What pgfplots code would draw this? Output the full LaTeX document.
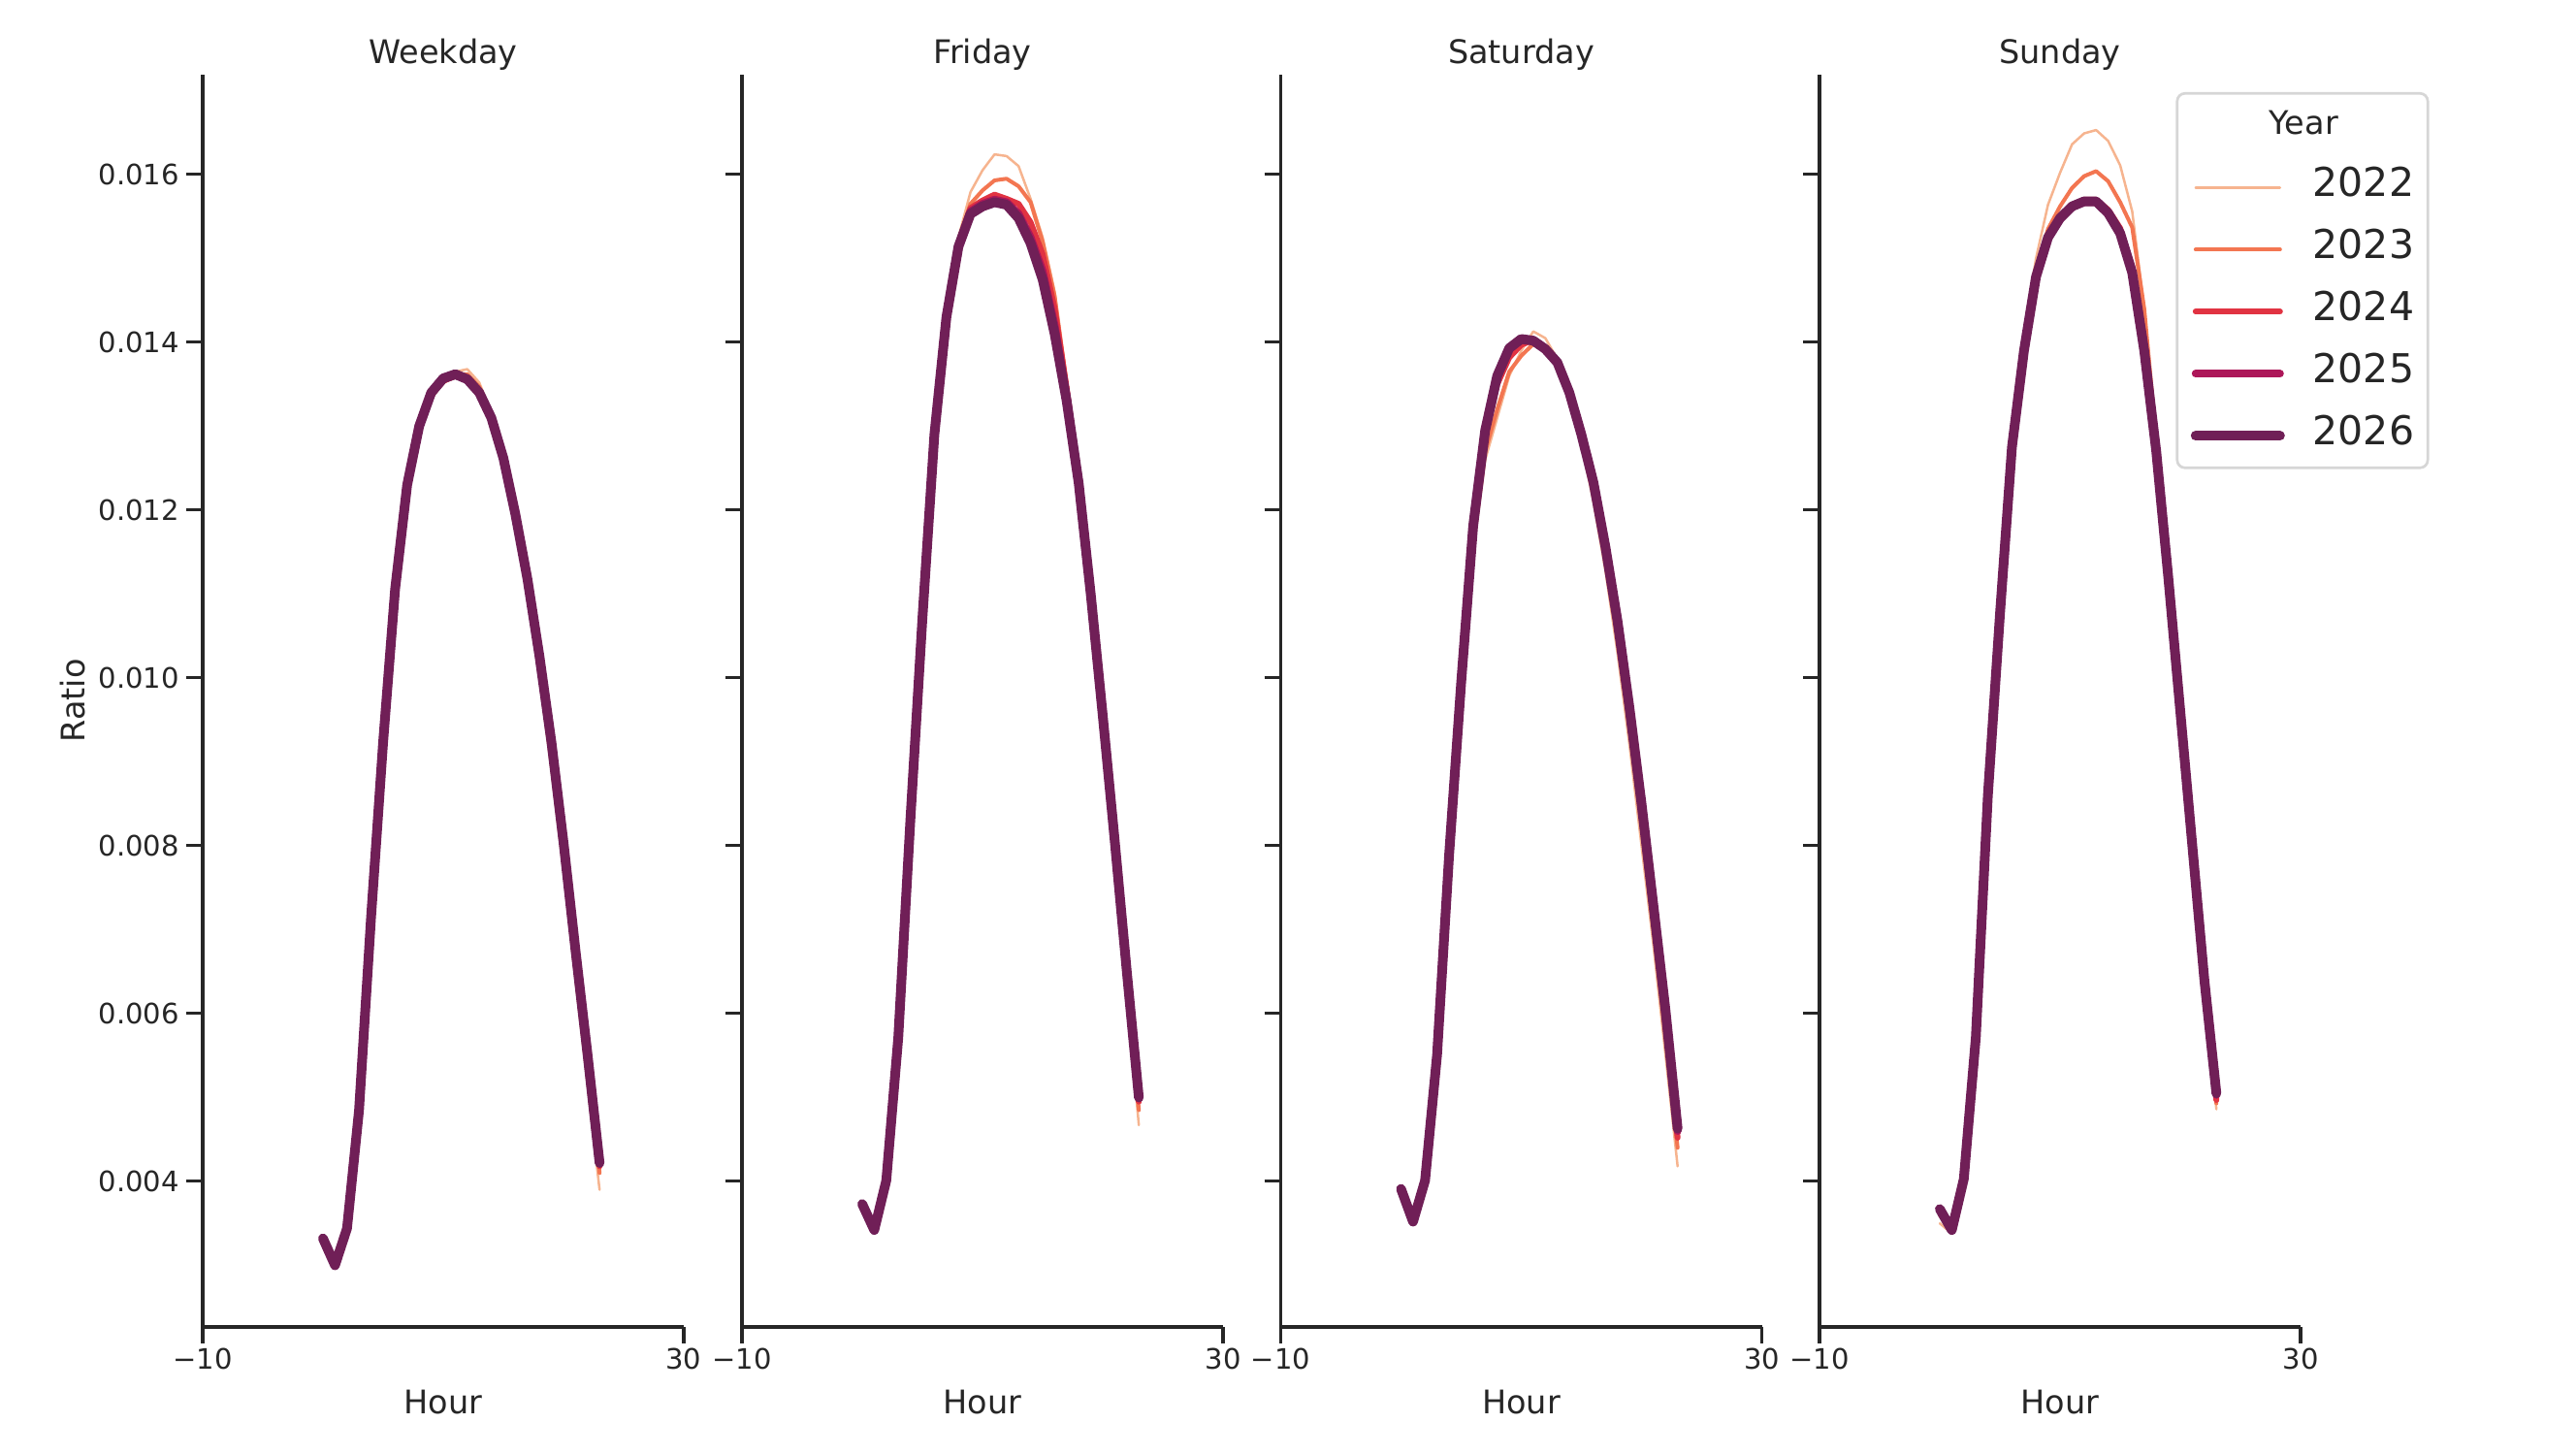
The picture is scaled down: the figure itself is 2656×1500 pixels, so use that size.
\documentclass[border=0pt]{standalone}
\usepackage{fontspec}
\setmainfont{DejaVu Sans}
\usepackage{pgfplots}
\pgfplotsset{compat=1.18}
\usepackage{pgfplotstable}
\definecolor{c22}{HTML}{F6B48F}
\definecolor{c23}{HTML}{F37651}
\definecolor{c24}{HTML}{E13342}
\definecolor{c25}{HTML}{AD1759}
\definecolor{c26}{HTML}{701F57}
\definecolor{ink}{HTML}{262626}
\definecolor{lgray}{HTML}{D6D6D6}

\pgfplotstableread{
h y22 y23 y24 y25 y26
0 0.00336 0.00334 0.00333 0.00332 0.00332
1 0.00298 0.00299 0.00300 0.00300 0.00300
2 0.00340 0.00342 0.00343 0.00344 0.00344
3 0.00480 0.00482 0.00484 0.00485 0.00485
4 0.00710 0.00712 0.00714 0.00715 0.00715
5 0.00915 0.00918 0.00921 0.00923 0.00923
6 0.01095 0.01100 0.01104 0.01106 0.01106
7 0.01220 0.01225 0.01228 0.01230 0.01230
8 0.01290 0.01295 0.01298 0.01300 0.01300
9 0.01332 0.01336 0.01338 0.01340 0.01340
10 0.01352 0.01352 0.01354 0.01356 0.01357
11 0.01365 0.01362 0.01360 0.01361 0.01362
12 0.01368 0.01362 0.01357 0.01356 0.01356
13 0.01352 0.01347 0.01342 0.01340 0.01340
14 0.01315 0.01312 0.01310 0.01310 0.01310
15 0.01262 0.01261 0.01261 0.01262 0.01262
16 0.01190 0.01192 0.01194 0.01195 0.01195
17 0.01100 0.01108 0.01115 0.01118 0.01118
18 0.01000 0.01012 0.01022 0.01026 0.01026
19 0.00890 0.00905 0.00918 0.00922 0.00923
20 0.00770 0.00785 0.00798 0.00803 0.00804
21 0.00640 0.00658 0.00670 0.00674 0.00675
22 0.00515 0.00535 0.00546 0.00550 0.00551
23 0.00390 0.00410 0.00418 0.00421 0.00422
}\wkday

\pgfplotstableread{
h y22 y23 y24 y25 y26
0 0.00375 0.00374 0.00373 0.00373 0.00373
1 0.00340 0.00341 0.00342 0.00342 0.00342
2 0.00398 0.00400 0.00401 0.00401 0.00401
3 0.00568 0.00570 0.00571 0.00572 0.00572
4 0.00828 0.00829 0.00830 0.00830 0.00830
5 0.01068 0.01069 0.01070 0.01070 0.01070
6 0.01292 0.01291 0.01290 0.01290 0.01290
7 0.01440 0.01435 0.01432 0.01430 0.01430
8 0.01525 0.01522 0.01518 0.01515 0.01514
9 0.01579 0.01565 0.01560 0.01556 0.01553
10 0.01605 0.01581 0.01569 0.01565 0.01562
11 0.01624 0.01593 0.01576 0.01570 0.01567
12 0.01622 0.01595 0.01571 0.01567 0.01564
13 0.01610 0.01586 0.01565 0.01553 0.01548
14 0.01571 0.01567 0.01543 0.01525 0.01518
15 0.01525 0.01520 0.01505 0.01485 0.01475
16 0.01460 0.01455 0.01440 0.01420 0.01410
17 0.01355 0.01350 0.01345 0.01335 0.01330
18 0.01235 0.01238 0.01238 0.01234 0.01232
19 0.01090 0.01098 0.01102 0.01102 0.01100
20 0.00935 0.00948 0.00955 0.00955 0.00955
21 0.00780 0.00795 0.00803 0.00805 0.00805
22 0.00625 0.00640 0.00648 0.00650 0.00650
23 0.00467 0.00485 0.00495 0.00499 0.00500
}\friday

\pgfplotstableread{
h y22 y23 y24 y25 y26
0 0.00390 0.00391 0.00391 0.00391 0.00391
1 0.00352 0.00352 0.00352 0.00352 0.00352
2 0.00400 0.00401 0.00401 0.00401 0.00401
3 0.00545 0.00548 0.00550 0.00551 0.00551
4 0.00775 0.00780 0.00786 0.00789 0.00789
5 0.00975 0.00982 0.00990 0.00994 0.00994
6 0.01150 0.01160 0.01174 0.01180 0.01181
7 0.01260 0.01270 0.01288 0.01294 0.01295
8 0.01310 0.01320 0.01350 0.01359 0.01360
9 0.01360 0.01365 0.01382 0.01392 0.01393
10 0.01390 0.01384 0.01397 0.01403 0.01404
11 0.01413 0.01398 0.01403 0.01402 0.01402
12 0.01405 0.01390 0.01392 0.01392 0.01392
13 0.01380 0.01374 0.01375 0.01376 0.01376
14 0.01340 0.01336 0.01338 0.01340 0.01340
15 0.01280 0.01284 0.01287 0.01290 0.01290
16 0.01210 0.01220 0.01228 0.01232 0.01233
17 0.01128 0.01140 0.01150 0.01155 0.01156
18 0.01030 0.01048 0.01060 0.01066 0.01068
19 0.00920 0.00940 0.00955 0.00962 0.00964
20 0.00800 0.00822 0.00840 0.00848 0.00850
21 0.00680 0.00700 0.00717 0.00725 0.00727
22 0.00550 0.00570 0.00590 0.00600 0.00603
23 0.00418 0.00440 0.00452 0.00460 0.00463
}\saturday

\pgfplotstableread{
h y22 y23 y24 y25 y26
0 0.00350 0.00360 0.00365 0.00367 0.00367
1 0.00338 0.00340 0.00341 0.00342 0.00342
2 0.00400 0.00402 0.00403 0.00403 0.00403
3 0.00570 0.00571 0.00572 0.00572 0.00572
4 0.00860 0.00860 0.00860 0.00860 0.00860
5 0.01078 0.01076 0.01075 0.01075 0.01075
6 0.01285 0.01280 0.01277 0.01275 0.01275
7 0.01410 0.01400 0.01393 0.01390 0.01390
8 0.01500 0.01485 0.01480 0.01478 0.01478
9 0.01564 0.01535 0.01528 0.01525 0.01525
10 0.01602 0.01562 0.01550 0.01548 0.01548
11 0.01636 0.01584 0.01564 0.01562 0.01562
12 0.01649 0.01598 0.01570 0.01567 0.01568
13 0.01653 0.01604 0.01570 0.01567 0.01568
14 0.01640 0.01592 0.01558 0.01554 0.01554
15 0.01611 0.01567 0.01536 0.01530 0.01530
16 0.01556 0.01537 0.01490 0.01484 0.01483
17 0.01440 0.01440 0.01405 0.01392 0.01390
18 0.01290 0.01285 0.01275 0.01271 0.01270
19 0.01125 0.01122 0.01120 0.01120 0.01120
20 0.00960 0.00960 0.00960 0.00960 0.00960
21 0.00790 0.00795 0.00798 0.00800 0.00800
22 0.00630 0.00635 0.00638 0.00640 0.00640
23 0.00486 0.00493 0.00497 0.00503 0.00505
}\sunday

\newcommand{\tickfont}{\fontsize{29bp}{35bp}\selectfont}
\newcommand{\labfont}{\fontsize{33.5bp}{40bp}\selectfont}
\newcommand{\legfont}{\fontsize{41bp}{49bp}\selectfont}

\pgfplotsset{
  panel/.style={
    scale only axis, width=496bp, height=1291bp, anchor=south west,
    xmin=-10, xmax=30, ymin=0.002265, ymax=0.01719,
    axis x line*=bottom, axis y line*=left,
    axis line style={draw=ink, line width=3.1bp, -},
    tick align=outside, major tick length=17bp,
    every tick/.style={draw=ink, line width=3.1bp},
    xtick={-10,30}, xticklabels={−10,30},
    ytick={0.004,0.006,0.008,0.010,0.012,0.014,0.016},
    scaled ticks=false,
    tick label style={font=\tickfont, text=ink},
    xticklabel style={anchor=base, inner sep=0pt, yshift=-27bp},
    yticklabel style={anchor=east, inner sep=0pt, xshift=-7bp},
    title style={font=\labfont, text=ink, at={(axis description cs:0.5,1)}, anchor=base, yshift=5bp},
    xlabel={Hour},
    xlabel style={font=\labfont, text=ink, at={(axis description cs:0.5,0)}, anchor=base, yshift=-89bp},
    clip mode=individual,
  },
  l22/.style={c22, line width=2.5bp, line join=round, line cap=round},
  l23/.style={c23, line width=4bp, line join=round, line cap=round},
  l24/.style={c24, line width=6bp, line join=round, line cap=round},
  l25/.style={c25, line width=8bp, line join=round, line cap=round},
  l26/.style={c26, line width=10bp, line join=round, line cap=round},
}

\begin{document}
\begin{tikzpicture}
\path[use as bounding box] (0,0) rectangle (2656bp,1500bp);

\begin{axis}[panel, at={(209bp,132bp)}, title={Weekday},
  yticklabels={0.004,0.006,0.008,0.010,0.012,0.014,0.016},
  ylabel={Ratio},
  ylabel style={font=\labfont, text=ink, at={(axis description cs:-0.270,0.5)}, anchor=center}]
\addplot[l22] table[x=h,y=y22]{\wkday};
\addplot[l23] table[x=h,y=y23]{\wkday};
\addplot[l24] table[x=h,y=y24]{\wkday};
\addplot[l25] table[x=h,y=y25]{\wkday};
\addplot[l26] table[x=h,y=y26]{\wkday};
\end{axis}

\begin{axis}[panel, at={(765bp,132bp)}, title={Friday}, yticklabels={}]
\addplot[l22] table[x=h,y=y22]{\friday};
\addplot[l23] table[x=h,y=y23]{\friday};
\addplot[l24] table[x=h,y=y24]{\friday};
\addplot[l25] table[x=h,y=y25]{\friday};
\addplot[l26] table[x=h,y=y26]{\friday};
\end{axis}

\begin{axis}[panel, at={(1320.5bp,132bp)}, title={Saturday}, yticklabels={}]
\addplot[l22] table[x=h,y=y22]{\saturday};
\addplot[l23] table[x=h,y=y23]{\saturday};
\addplot[l24] table[x=h,y=y24]{\saturday};
\addplot[l25] table[x=h,y=y25]{\saturday};
\addplot[l26] table[x=h,y=y26]{\saturday};
\end{axis}

\begin{axis}[panel, at={(1876bp,132bp)}, title={Sunday}, yticklabels={},
  legend cell align=left,
  legend image code/.code={\draw[#1] (0bp,0bp) -- (87bp,0bp);},
  legend style={at={(axis description cs:1.2671,0.9861)}, anchor=north east,
    draw=lgray, line width=2.7bp, rounded corners=8bp, fill=white,
    inner xsep=14bp, inner ysep=13bp, row sep=24bp,
    font=\legfont, text=ink,
    nodes={inner sep=0pt, text height=29bp, text depth=11bp},
    /tikz/every odd column/.append style={column sep=29bp}}]
\addlegendimage{empty legend}
\addlegendentry{\hspace*{-45bp}\labfont Year}
\addplot[l22] table[x=h,y=y22]{\sunday};
\addlegendentry{2022}
\addplot[l23] table[x=h,y=y23]{\sunday};
\addlegendentry{2023}
\addplot[l24] table[x=h,y=y24]{\sunday};
\addlegendentry{2024}
\addplot[l25] table[x=h,y=y25]{\sunday};
\addlegendentry{2025}
\addplot[l26] table[x=h,y=y26]{\sunday};
\addlegendentry{2026}
\end{axis}
\end{tikzpicture}
\end{document}
